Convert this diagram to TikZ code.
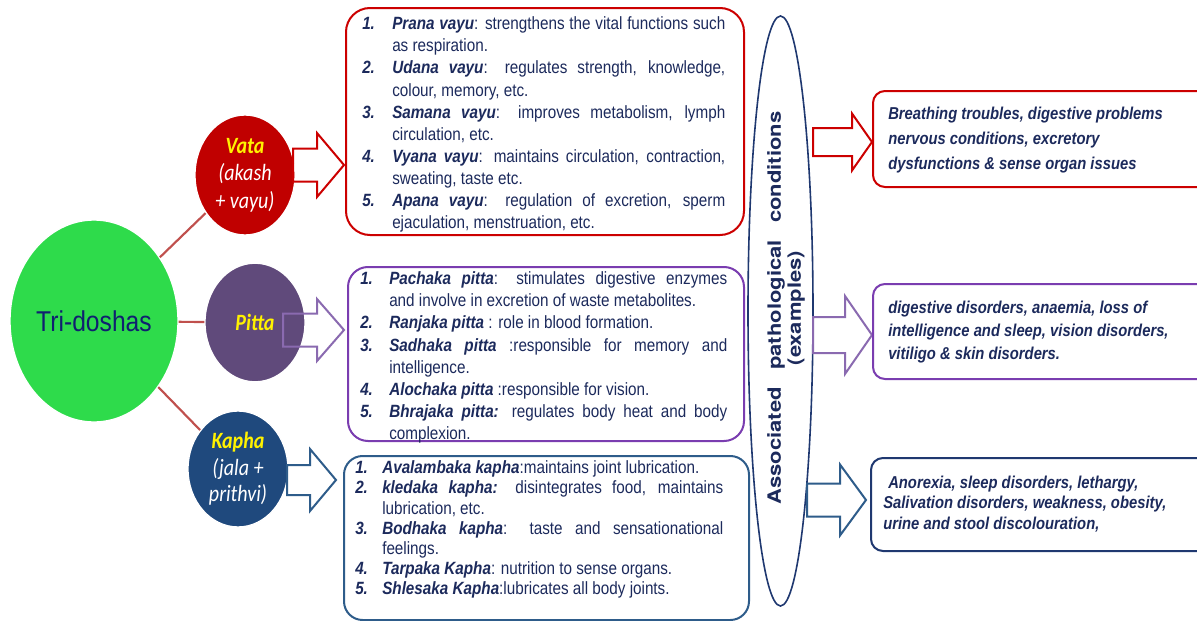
\documentclass[tikz,border=0pt]{standalone}
\usepackage{fontspec}
\setmainfont{Liberation Sans}[FakeStretch=0.86]
\newfontfamily\calfont{Carlito}[FakeStretch=0.86]
\newfontfamily\rotfont{TeX Gyre Heros}[FakeStretch=1.2]
\usetikzlibrary{shapes.geometric}
\definecolor{navytxt}{HTML}{1C2A5C}
\definecolor{trig}{HTML}{2EDB4B}
\definecolor{tritxt}{HTML}{102070}
\definecolor{vatac}{HTML}{C00000}
\definecolor{pittac}{HTML}{604A7B}
\definecolor{kaphac}{HTML}{1F497D}
\definecolor{connc}{HTML}{C0504D}
\definecolor{redb}{HTML}{CC0000}
\definecolor{purb}{HTML}{7A3DB0}
\definecolor{purarr}{HTML}{8A6AB0}
\definecolor{blueb}{HTML}{2E5C8A}
\definecolor{navyb}{HTML}{1F3870}
\newlength\itind
\newcommand{\nmb}[1]{\textbf{\textit{#1}}}
\newcommand{\lstitem}[2]{\hangindent=\itind\hangafter=1\noindent\makebox[\itind][l]{\textbf{\textit{#1}}}#2\par}
\newcommand{\blkarrow}[7]{\draw[#1] (#2,{#5-#6}) -- (#3,{#5-#6}) -- (#3,{#5-#7}) -- (#4,#5) -- (#3,{#5+#7}) -- (#3,{#5+#6}) -- (#2,{#5+#6}) -- cycle;}
\tikzset{
  circ/.style={ellipse, draw=white, line width=1pt, inner sep=0pt, align=center},
  conn/.style={draw=connc, line width=1.6pt},
  barrow/.style={line width=1.5pt, line join=miter},
  boxst/.style={draw, line width=1.5pt, anchor=north west, inner sep=0pt},
  listtxt/.style={anchor=north west, inner sep=0pt, align=justify, text=navytxt},
  condtxt/.style={anchor=north west, inner sep=0pt, align=left, text=navytxt, font=\bfseries\itshape\fontsize{12.9}{18.75}\selectfont},
}
\begin{document}
\begin{tikzpicture}[x=0.75pt,y=-0.75pt]
\clip (0,0) rectangle (1197,621);
\fill[white] (0,0) rectangle (1197,621);

% circles
\node[circ, fill=trig, minimum width=126pt, minimum height=151.5pt, text=tritxt, font=\fontsize{21.5}{24}\selectfont] (tri) at (94,321) {Tri-doshas};
\node[circ, fill=vatac, minimum width=75pt, minimum height=90pt, text=white, font=\calfont\itshape\fontsize{17.5}{20.5}\selectfont] (vata) at (245,175) {\textbf{\textcolor{yellow}{Vata}}\\(akash\\+ vayu)};
\node[circ, fill=pittac, minimum width=75pt, minimum height=89pt, text=yellow, font=\calfont\itshape\bfseries\fontsize{17.5}{20.5}\selectfont] (pitta) at (255,322.5) {Pitta};
\node[circ, fill=kaphac, minimum width=75pt, minimum height=87pt, text=white, font=\calfont\itshape\fontsize{17.5}{20}\selectfont] (kapha) at (238,469) {\textbf{\textcolor{yellow}{Kapha}}\\(jala +\\prithvi)};

\draw[conn] (tri) -- (vata);
\draw[conn] (tri) -- (pitta);
\draw[conn] (tri) -- (kapha);

% left block arrows
\blkarrow{barrow, draw=redb}{293}{317}{344}{165}{16.5}{32}
\blkarrow{barrow, draw=purarr}{283}{317}{344}{330}{16.5}{31}
\blkarrow{barrow, draw=blueb}{287}{310}{336}{480}{15}{31}

% list boxes
\node[boxst, draw=redb, rounded corners=18pt, minimum width=298.5pt, minimum height=170.25pt] (vbox) at (345,7) {};
\node[boxst, draw=purb, rounded corners=15pt, minimum width=297pt, minimum height=130.5pt] (pbox) at (347,266) {};
\node[boxst, draw=blueb, rounded corners=14pt, minimum width=303.75pt, minimum height=123pt] (kbox) at (343,455) {};

\node[listtxt, text width=272.25pt, font=\fontsize{13.3}{16.6}\selectfont] (vlist) at (362,16.5) {\setlength\itind{22.5pt}%
\lstitem{1.}{\nmb{Prana vayu}: strengthens the vital functions such\linebreak as respiration.}%
\lstitem{2.}{\nmb{Udana vayu}: regulates strength, knowledge,\linebreak colour, memory, etc.}%
\lstitem{3.}{\nmb{Samana vayu}: improves metabolism, lymph\linebreak circulation, etc.}%
\lstitem{4.}{\nmb{Vyana vayu}: maintains circulation, contraction,\linebreak sweating, taste etc.}%
\lstitem{5.}{\nmb{Apana vayu}: regulation of excretion, sperm\linebreak ejaculation, menstruation, etc.}};

\node[listtxt, text width=275.25pt, font=\fontsize{13.3}{16.6}\selectfont] (plist) at (360,271.5) {\setlength\itind{21.75pt}%
\lstitem{1.}{\nmb{Pachaka pitta}: stimulates digestive enzymes\linebreak and involve in excretion of waste metabolites.}%
\lstitem{2.}{\nmb{Ranjaka pitta} : role in blood formation.}%
\lstitem{3.}{\nmb{Sadhaka pitta} :responsible for memory and\linebreak intelligence.}%
\lstitem{4.}{\nmb{Alochaka pitta} :responsible for vision.}%
\lstitem{5.}{\nmb{Bhrajaka pitta:} regulates body heat and body\linebreak complexion.}};

\node[listtxt, text width=276pt, font=\fontsize{13.3}{15.15}\selectfont] (klist) at (355,460.5) {\setlength\itind{20.25pt}%
\lstitem{1.}{\nmb{Avalambaka kapha}:maintains joint lubrication.}%
\lstitem{2.}{\nmb{kledaka kapha:} disintegrates food, maintains\linebreak lubrication, etc.}%
\lstitem{3.}{\nmb{Bodhaka kapha}: taste and sensationational\linebreak feelings.}%
\lstitem{4.}{\nmb{Tarpaka Kapha}: nutrition to sense organs.}%
\lstitem{5.}{\nmb{Shlesaka Kapha}:lubricates all body joints.}};

% ellipse
\node[ellipse, draw=navyb, line width=1.2pt, minimum width=48.75pt, minimum height=442.5pt, inner sep=0pt] (assoc) at (780.5,311) {};
\node[rotate=90, align=center, text=navytxt, inner sep=0pt, font=\rotfont\bfseries\fontsize{13.75}{15}\selectfont] (assoctxt) at (786,308) {\makebox[294.75pt][s]{Associated pathological conditions}\\(examples)};

% right block arrows
\blkarrow{barrow, draw=redb}{813}{852}{872}{142}{14}{28.5}
\blkarrow{barrow, draw=purarr}{813}{845}{872}{335}{18}{39}
\blkarrow{barrow, draw=blueb}{807}{840}{866}{500}{16.5}{35.5}

% right boxes
\node[boxst, draw=redb, rounded corners=9pt, minimum width=253.5pt, minimum height=72pt] (vcond) at (872,90) {};
\node[boxst, draw=purb, rounded corners=9pt, minimum width=253.5pt, minimum height=71.25pt] (pcond) at (872,283) {};
\node[boxst, draw=navyb, rounded corners=9pt, minimum width=255pt, minimum height=69.75pt] (kcond) at (870,457) {};

\node[condtxt] (vcondtxt) at (888,106.5) {Breathing troubles, digestive problems\\nervous conditions, excretory\\dysfunctions \& sense organ issues};
\node[condtxt, font=\bfseries\itshape\fontsize{12.9}{17.25}\selectfont] (pcondtxt) at (888,300.5) {digestive disorders, anaemia, loss of\\intelligence and sleep, vision disorders,\\vitiligo \& skin disorders.};
\node[condtxt, font=\bfseries\itshape\fontsize{12.9}{15.4}\selectfont] (kcondtxt) at (883,475.5) {\hspace*{3.75pt}Anorexia, sleep disorders, lethargy,\\Salivation disorders, weakness, obesity,\\urine and stool discolouration,};
\end{tikzpicture}
\end{document}
